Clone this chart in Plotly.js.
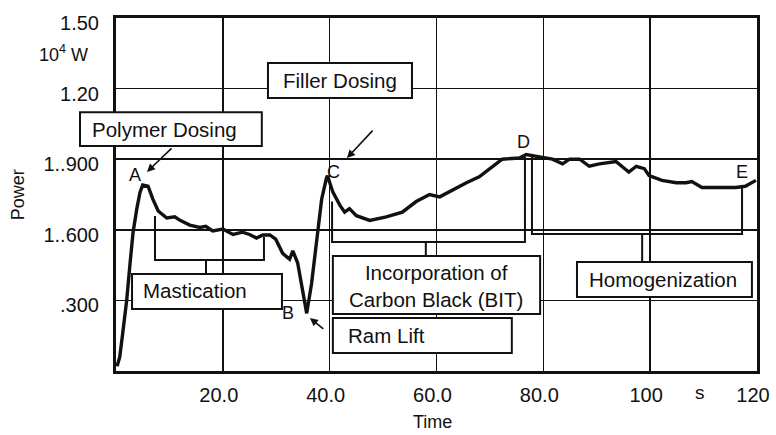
<!DOCTYPE html>
<html>
<head>
<meta charset="utf-8">
<script src="https://cdn.plot.ly/plotly-3.0.1.min.js"></script>
<style>
  html, body { margin: 0; padding: 0; background: #ffffff; }
  #chart { width: 776px; height: 435px; }
</style>
</head>
<body>
<div id="chart"></div>
<script>
// ---- data (time in s, power in 10^4 W) ----
const time = [0.2, 0.7, 1.2, 2.0, 2.6, 3.2, 3.9, 4.5, 5.0, 6.0, 6.9, 7.9, 9.5, 11.0, 12.0, 13.8, 15.7, 16.8, 18.1, 20.0,
  21.9, 23.7, 25.0, 26.3, 27.5, 28.8, 29.9, 31.2, 32.5, 33.1, 34.0, 35.0, 35.7, 36.6, 37.6, 38.5, 39.4, 39.6,
  40.6, 41.9, 42.8, 43.7, 45.0, 47.5, 50.6, 53.6, 56.2, 58.7, 60.6, 63.0, 65.6, 68.0, 70.5, 72.3, 75.5,
  76.8, 79.3, 81.7, 83.6, 84.9, 86.8, 88.6, 90.5, 93.6, 96.0, 97.4, 98.9, 99.8, 102.2, 104.9, 106.7,
  107.8, 109.7, 112.9, 116.0, 117.8, 118.9, 119.8];
const power = [0.02, 0.06, 0.15, 0.30, 0.45, 0.59, 0.69, 0.76, 0.79, 0.785, 0.73, 0.68, 0.65, 0.655, 0.64, 0.62, 0.61, 0.615, 0.595, 0.603,
  0.58, 0.59, 0.58, 0.565, 0.578, 0.578, 0.56, 0.50, 0.475, 0.51, 0.46, 0.33, 0.245, 0.37, 0.56, 0.73, 0.82, 0.83,
  0.76, 0.705, 0.675, 0.69, 0.66, 0.64, 0.655, 0.675, 0.72, 0.75, 0.74, 0.77, 0.80, 0.825, 0.87, 0.90, 0.905,
  0.92, 0.91, 0.90, 0.88, 0.90, 0.90, 0.87, 0.88, 0.89, 0.845, 0.87, 0.86, 0.83, 0.81, 0.80, 0.80,
  0.805, 0.78, 0.78, 0.78, 0.785, 0.80, 0.81];

const xTickVals = [20, 40, 60, 80, 100, 120];
const xTickText = ["20.0", "40.0", "60.0", "80.0", "100", "120"];
const yTickVals = [0.3, 0.6, 0.9, 1.2, 1.5];
const yTickText = [".300", "1..600", "1..900", "1.20", "1.50"];

// ---- helpers for decorations given in data units ----
const XR = [0, 120], YR = [0, 1.5];
const px = t => (t - XR[0]) / (XR[1] - XR[0]);
const py = p => (p - YR[0]) / (YR[1] - YR[0]);
const FONT = "Liberation Sans, Arial, sans-serif";
const INK = "#111111";

function box(t0, t1, p0, p1) {
  return { type: "rect", xref: "paper", yref: "paper", x0: px(t0), x1: px(t1), y0: py(p0), y1: py(p1),
    line: { color: INK, width: 2 }, fillcolor: "#ffffff", layer: "above" };
}
function poly(pts) {
  const d = pts.map((q, i) => (i ? "L" : "M") + px(q[0]).toFixed(5) + "," + py(q[1]).toFixed(5)).join(" ");
  return { type: "path", xref: "paper", yref: "paper", path: d, line: { color: INK, width: 2 }, layer: "above" };
}
function label(t, p, text, size, extra) {
  return Object.assign({ xref: "paper", yref: "paper", x: px(t), y: py(p), text: text, showarrow: false,
    font: { family: FONT, size: size || 20.5, color: INK }, xanchor: "center", yanchor: "middle" }, extra || {});
}
function arrow(t, p, at, ap) {
  return { xref: "x", yref: "y", axref: "x", ayref: "y", x: t, y: p, ax: at, ay: ap, text: "",
    showarrow: true, arrowhead: 2, arrowsize: 1, arrowwidth: 1.6, arrowcolor: INK };
}

const shapes = [
  // brackets
  poly([[7.3, 0.659], [7.3, 0.472], [27.7, 0.472], [27.7, 0.569]]),
  poly([[16.85, 0.472], [16.85, 0.416]]),
  poly([[40.45, 0.72], [40.45, 0.548], [76.56, 0.548], [76.56, 0.909]]),
  poly([[58.0, 0.548], [58.0, 0.489]]),
  poly([[77.87, 0.909], [77.87, 0.582], [117.2, 0.582], [117.2, 0.778]]),
  poly([[98.5, 0.582], [98.5, 0.463]]),
  // boxes
  box(-6.74, 27.3, 0.956, 1.100),
  box(28.45, 55.41, 1.160, 1.309),
  box(3.0, 31.07, 0.263, 0.412),
  box(40.6, 79.4, 0.242, 0.489),
  box(86.3, 119.05, 0.314, 0.463),
  box(40.6, 74.1, 0.0765, 0.225)
];

const annotations = [
  label(9.17, 1.028, "Polymer Dosing"),
  label(41.9, 1.236, "Filler Dosing"),
  label(14.8, 0.34, "Mastication"),
  label(59.9, 0.363, "Incorporation of<br>Carbon Black (BIT)"),
  label(102.4, 0.387, "Homogenization"),
  label(50.7, 0.149, "Ram Lift"),
  label(3.56, 0.833, "A", 18),
  label(32.2, 0.246, "B", 18),
  label(40.8, 0.846, "C", 18),
  label(76.2, 0.973, "D", 18),
  label(117.2, 0.846, "E", 18),
  arrow(5.8, 0.846, 10.67, 0.952),
  arrow(43.24, 0.905, 48.3, 1.028),
  arrow(36.3, 0.225, 39.1, 0.174),
  label(-4.8, 1.351, "10<sup>4</sup> W", 18, { xanchor: "right" }),
  label(109.3, -0.093, "s", 19),
  label(59.2, -0.218, "Time", 18),
  label(-18.3, 0.748, "Power", 18, { textangle: -90 })
];

const trace = {
  x: time, y: power, type: "scatter", mode: "lines",
  line: { color: INK, width: 3.4 }, hoverinfo: "skip", showlegend: false
};

const layout = {
  width: 776, height: 435,
  margin: { l: 116, r: 19, t: 18, b: 64 },
  paper_bgcolor: "#ffffff", plot_bgcolor: "#ffffff",
  font: { family: FONT, size: 20, color: INK },
  showlegend: false,
  xaxis: {
    range: XR, tickvals: xTickVals, ticktext: xTickText,
    showgrid: true, gridcolor: INK, gridwidth: 1.6,
    showline: true, linecolor: INK, linewidth: 3, mirror: true,
    zeroline: false, ticks: "", ticklabelstandoff: 4, ticklabelshift: -4,
    tickfont: { family: FONT, size: 20, color: INK }, fixedrange: true
  },
  yaxis: {
    range: YR, tickvals: yTickVals, ticktext: yTickText,
    showgrid: true, gridcolor: INK, gridwidth: 1.6,
    showline: true, linecolor: INK, linewidth: 3, mirror: true,
    zeroline: false, ticks: "", ticklabelstandoff: 10, ticklabelshift: 5,
    tickfont: { family: FONT, size: 20, color: INK }, fixedrange: true
  },
  shapes: shapes,
  annotations: annotations
};

Plotly.newPlot("chart", [trace], layout, { staticPlot: true, displayModeBar: false });
</script>
</body>
</html>
